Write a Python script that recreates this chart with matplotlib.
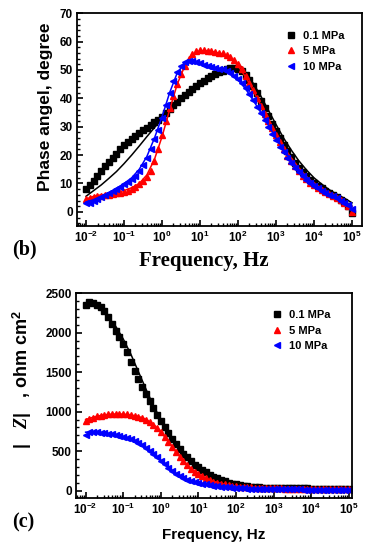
import numpy as np
import matplotlib.pyplot as plt
from matplotlib.ticker import LogLocator, MultipleLocator, NullFormatter

plt.rcParams['font.family'] = 'Liberation Sans'
plt.rcParams['font.weight'] = 'bold'
plt.rcParams['mathtext.fontset'] = 'custom'
plt.rcParams['mathtext.it'] = 'Liberation Serif:italic:bold'
plt.rcParams['mathtext.bf'] = 'Liberation Sans:bold'
plt.rcParams['mathtext.rm'] = 'Liberation Sans:bold'

# measured frequencies, 10 per decade
freq = np.logspace(-2, 5, 71)
# fitted curves, 5 per decade
freq_fit = np.logspace(-2, 5, 36)

labels = ['0.1 MPa', '5 MPa', '10 MPa']

# phase angle, degree
phase_01 = [8, 9.5, 11, 12.8, 14.5, 16, 17.5, 19, 20.5, 22,
            23.5, 24.7, 25.8, 26.8, 27.8, 28.7, 29.6, 30.5, 31.5, 32.5,
            33.5, 35, 36.3, 37.5, 38.8, 40, 41.2, 42.3, 43.4, 44.4,
            45.3, 46.2, 47, 47.8, 48.5, 49.2, 49.8, 50.3, 50.7, 50.8,
            50.5, 49.7, 48.3, 46.5, 44.3, 41.8, 39.2, 36.5, 33.8, 31,
            28.5, 26, 23.5, 21.3, 19.2, 17.3, 15.5, 14, 12.6, 11.3,
            10.2, 9.2, 8.3, 7.5, 6.8, 6, 5.2, 4.3, 3.3, 2, -0.5]
phase_5 = [4.5, 5, 5.3, 5.5, 5.7, 5.9, 6.1, 6.3, 6.5, 6.8,
           7, 7.5, 8, 8.8, 9.8, 10.8, 12.3, 14.5, 18, 22,
           27, 32, 36.5, 41, 45, 48.5, 51.5, 54, 55.6, 56.6,
           57, 57, 56.8, 56.6, 56.4, 56.1, 55.8, 55.3, 54.6, 53.6,
           52.2, 50.3, 48, 45.5, 42.8, 40, 37.3, 34.6, 32, 29.5,
           27, 24.5, 22, 19.8, 17.8, 16, 14.3, 12.8, 11.5, 10.3,
           9.4, 8.5, 7.7, 7, 6.3, 5.6, 4.9, 4.1, 3.2, 2, 0]
phase_10 = [3, 3.2, 3.8, 4.5, 5.2, 5.8, 6.5, 7.2, 8, 8.8,
            9.7, 10.6, 11.6, 12.8, 14.3, 16.5, 19, 22, 25.5, 29,
            33, 37.5, 42, 46, 49.3, 51.5, 52.8, 53.3, 53.2, 52.8,
            52.3, 51.8, 51.4, 51.1, 50.8, 50.5, 50.2, 49.7, 49, 48,
            46.8, 45.3, 43.5, 41.5, 39.3, 37, 34.7, 32.3, 30, 27.6,
            25.3, 23, 21, 19, 17.2, 15.5, 14, 12.6, 11.3, 10.2,
            9.2, 8.3, 7.5, 6.8, 6.1, 5.5, 4.8, 4, 3.2, 2.3, 1]

phase_fit_01 = [5.5, 7.5, 9.5, 11.8, 14.2, 17, 20, 23.2, 26.5, 29.7,
                32.8, 35.8, 38.5, 41, 43.3, 45.3, 47.2, 48.8, 50.2, 51,
                50.8, 48.8, 45.3, 40.8, 35.8, 30.8, 26, 21.8, 18, 14.8,
                12, 9.8, 7.8, 6.2, 4.8, 3.2]
phase_fit_5 = [4.5, 5.5, 6, 6.3, 6.8, 7.5, 8.5, 10, 13, 18.5,
               26.5, 36, 45, 51.5, 55.3, 56.8, 56.8, 56.3, 55.5, 54,
               51.5, 47.5, 42.8, 37.5, 32.5, 27.5, 23, 19, 15.5, 12.5,
               10, 8, 6.3, 4.8, 3.3, 2]
phase_fit_10 = [3.5, 4.3, 5.5, 6.8, 8.3, 10, 12, 15, 19.5, 26,
                33.5, 42, 49, 52.5, 53, 52.3, 51.5, 50.8, 50, 48.7,
                46.5, 43.3, 39.3, 35, 30.5, 26, 22, 18.3, 15, 12.3,
                10, 8, 6.3, 5, 3.5, 2]

# |Z|, ohm cm2
z_01 = [2345, 2385, 2370, 2345, 2320, 2280, 2200, 2115, 2020, 1940,
        1850, 1750, 1630, 1510, 1410, 1310, 1220, 1130, 1040, 960,
        880, 800, 725, 655, 590, 530, 470, 420, 370, 330,
        295, 260, 230, 200, 175, 155, 135, 118, 102, 90,
        80, 70, 62, 55, 50, 45, 41, 38, 35, 33,
        31, 30, 30, 29, 29, 29, 28, 28, 28, 28,
        27, 27, 27, 27, 26, 26, 26, 26, 25, 25, 25]
z_5 = [880, 905, 925, 940, 950, 958, 965, 970, 972, 973,
       972, 968, 960, 950, 938, 922, 900, 870, 835, 790,
       740, 680, 615, 550, 485, 425, 370, 320, 275, 240,
       210, 180, 155, 133, 115, 100, 88, 78, 69, 62,
       56, 51, 47, 43, 40, 37, 35, 33, 31, 30,
       29, 28, 28, 27, 27, 26, 26, 25, 25, 25,
       24, 24, 24, 23, 23, 23, 23, 22, 22, 22, 22]
z_10 = [710, 740, 745, 740, 735, 728, 720, 712, 702, 692,
        680, 665, 650, 630, 605, 575, 540, 500, 460, 420,
        380, 335, 290, 250, 215, 185, 160, 140, 123, 110,
        98, 88, 79, 71, 64, 57, 51, 46, 41, 37,
        34, 31, 28, 26, 24, 22, 21, 20, 19, 18,
        18, 17, 17, 16, 16, 15, 15, 15, 14, 14,
        14, 14, 13, 13, 13, 13, 12, 12, 12, 12, 12]

z_fit_01 = [2370, 2345, 2290, 2200, 2080, 1920, 1730, 1510, 1290, 1080,
            900, 730, 590, 470, 370, 290, 225, 175, 135, 105,
            82, 65, 52, 43, 37, 33, 31, 30, 29, 28,
            28, 27, 27, 26, 26, 25]
z_fit_5 = [900, 930, 952, 965, 970, 968, 958, 940, 905, 840,
           745, 620, 490, 375, 280, 210, 157, 118, 90, 70,
           57, 48, 41, 36, 32, 29, 28, 27, 26, 25,
           24, 24, 23, 23, 22, 22]
z_fit_10 = [740, 742, 735, 722, 705, 682, 652, 608, 545, 465,
            382, 295, 220, 163, 125, 99, 80, 65, 52, 42,
            34, 29, 25, 22, 20, 18, 17, 16, 15, 14,
            14, 13, 13, 12, 12, 12]

colors = ['black', 'red', 'blue']
markers = ['s', '^', '<']

fig = plt.figure(figsize=(3.7, 5.5), dpi=100)
ax1 = fig.add_axes([0.208, 0.589, 0.770, 0.387])
ax2 = fig.add_axes([0.205, 0.095, 0.746, 0.372])


def style_axes(ax):
    ax.set_xscale('log')
    ax.xaxis.set_major_locator(LogLocator(base=10, numticks=20))
    ax.xaxis.set_minor_locator(LogLocator(base=10, subs=np.arange(2, 10), numticks=20))
    ax.xaxis.set_minor_formatter(NullFormatter())
    ax.tick_params(which='major', direction='in', length=4, width=1.2, labelsize=8.5, pad=3)
    ax.tick_params(which='minor', direction='in', length=2, width=1.0)
    for s in ax.spines.values():
        s.set_linewidth(1.3)
    for lab in ax.get_xticklabels() + ax.get_yticklabels():
        lab.set_fontweight('bold')


# ---- (b) phase angle ----
for y, yf, c, m, lab in zip([phase_01, phase_5, phase_10],
                            [phase_fit_01, phase_fit_5, phase_fit_10],
                            colors, markers, labels):
    ax1.plot(freq, y, linestyle='none', marker=m, color=c, markersize=4, label=lab)
    ax1.plot(freq_fit, yf, color=c, linewidth=1.1)

ax1.set_xlim(10 ** -2.24, 10 ** 5.26)
ax1.set_ylim(-5, 70)
ax1.yaxis.set_major_locator(MultipleLocator(10))
ax1.yaxis.set_minor_locator(MultipleLocator(2))
style_axes(ax1)
ax1.set_ylabel('Phase angel, degree', fontsize=12.5, fontweight='bold', labelpad=5, y=0.56)
ax1.set_xlabel('Frequency, Hz', fontsize=15, fontweight='bold',
               family='Liberation Serif', labelpad=4, x=0.445)
ax1.legend(loc='upper left', bbox_to_anchor=(0.70, 0.955), frameon=False,
           handletextpad=0.5, labelspacing=0.5, borderpad=0.2,
           handlelength=1.2, prop={'weight': 'bold', 'size': 8})
fig.text(0.032, 0.547, '(b)', fontsize=14.5, fontweight='bold', family='Liberation Serif',
         va='center')

# ---- (c) |Z| ----
for y, yf, c, m, lab in zip([z_01, z_5, z_10],
                            [z_fit_01, z_fit_5, z_fit_10],
                            colors, markers, labels):
    ax2.plot(freq, y, linestyle='none', marker=m, color=c, markersize=4, label=lab)
    ax2.plot(freq_fit, yf, color=c, linewidth=1.1)

ax2.set_xlim(10 ** -2.26, 10 ** 5.08)
ax2.set_ylim(-90, 2500)
ax2.yaxis.set_major_locator(MultipleLocator(500))
ax2.yaxis.set_minor_locator(MultipleLocator(100))
style_axes(ax2)
ax2.set_ylabel(r'|   $\mathit{Z}$|   , ohm cm$^{\mathbf{2}}$', fontsize=13,
               fontweight='bold', labelpad=8, y=0.575)
ax2.set_xlabel('Frequency, Hz', fontsize=11, fontweight='bold', labelpad=8)
ax2.legend(loc='upper left', bbox_to_anchor=(0.675, 0.955), frameon=False,
           handletextpad=0.5, labelspacing=0.5, borderpad=0.2,
           handlelength=1.2, prop={'weight': 'bold', 'size': 8})
fig.text(0.032, 0.05, '(c)', fontsize=14.5, fontweight='bold', family='Liberation Serif',
         va='center')

fig.savefig('out.png', dpi=100)
